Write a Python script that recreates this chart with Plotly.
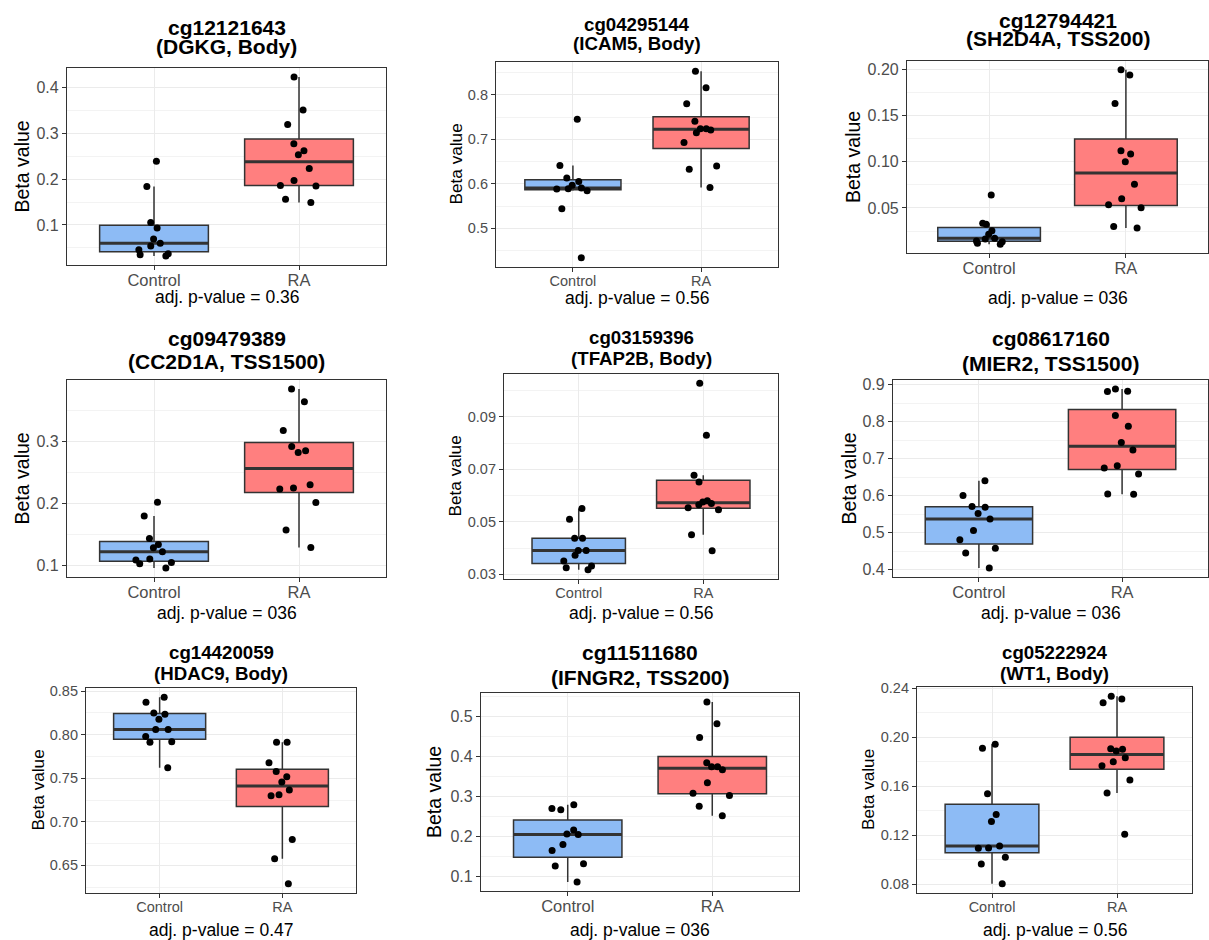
import numpy as np
import plotly.graph_objects as go

W, H = 1209, 940
FONT = "Liberation Sans, Arial, Helvetica, sans-serif"

groups = ["Control", "RA"]
group_colors = ["#8DBBF5", "#FF7F7F"]

probe_ids = ["cg12121643", "cg04295144", "cg12794421",
             "cg09479389", "cg03159396", "cg08617160",
             "cg14420059", "cg11511680", "cg05222924"]
probe_genes = ["(DGKG, Body)", "(ICAM5, Body)", "(SH2D4A, TSS200)",
               "(CC2D1A, TSS1500)", "(TFAP2B, Body)", "(MIER2, TSS1500)",
               "(HDAC9, Body)", "(IFNGR2, TSS200)", "(WT1, Body)"]
pvalue_texts = ["adj. p-value = 0.36", "adj. p-value = 0.56", "adj. p-value = 036",
                "adj. p-value = 036", "adj. p-value = 0.56", "adj. p-value = 036",
                "adj. p-value = 0.47", "adj. p-value = 036", "adj. p-value = 0.56"]

# Beta values
ctrl_cg12121643 = [0.239, 0.184, 0.105, 0.093, 0.069, 0.060, 0.054, 0.046, 0.037, 0.035, 0.032]
ra_cg12121643 = [0.423, 0.351, 0.319, 0.277, 0.262, 0.253, 0.223, 0.197, 0.186, 0.185, 0.156, 0.149]

ctrl_cg04295144 = [0.745, 0.641, 0.613, 0.605, 0.597, 0.5905, 0.589, 0.5885, 0.5845, 0.544, 0.434]
ra_cg04295144 = [0.853, 0.816, 0.780, 0.741, 0.724, 0.724, 0.721, 0.715, 0.693, 0.640, 0.633, 0.592]

ctrl_cg12794421 = [0.0641, 0.0334, 0.0324, 0.0254, 0.0215, 0.0172, 0.0165, 0.0143, 0.0135, 0.0118, 0.0107]
ra_cg12794421 = [0.1996, 0.194, 0.163, 0.112, 0.1084, 0.100, 0.0756, 0.060, 0.0536, 0.0503, 0.030, 0.0283]

ctrl_cg09479389 = [0.2017, 0.1797, 0.1433, 0.1336, 0.1283, 0.1219, 0.1102, 0.1086, 0.1048, 0.1027, 0.0958]
ra_cg09479389 = [0.3840, 0.3636, 0.3171, 0.2914, 0.2845, 0.2818, 0.2299, 0.2246, 0.2230, 0.2011, 0.1572, 0.1289]

ctrl_cg03159396 = [0.0551, 0.0510, 0.0438, 0.0438, 0.0391, 0.0391, 0.0373, 0.0351, 0.0332, 0.0325, 0.0318]
ra_cg03159396 = [0.1028, 0.0830, 0.0678, 0.0652, 0.0581, 0.0576, 0.0570, 0.0565, 0.0554, 0.0546, 0.0451, 0.0390]

ctrl_cg08617160 = [0.641, 0.601, 0.571, 0.569, 0.552, 0.537, 0.506, 0.481, 0.458, 0.445, 0.4045]
ra_cg08617160 = [0.889, 0.883, 0.882, 0.817, 0.788, 0.744, 0.724, 0.681, 0.675, 0.659, 0.605, 0.604]

ctrl_cg14420059 = [0.8428, 0.837, 0.8249, 0.8233, 0.8176, 0.8058, 0.8058, 0.7978, 0.7917, 0.7913, 0.762]
ra_cg14420059 = [0.7913, 0.7913, 0.7677, 0.7578, 0.7517, 0.7456, 0.7365, 0.7311, 0.730, 0.6797, 0.6576, 0.629]

ctrl_cg11511680 = [0.2792, 0.270, 0.2667, 0.2167, 0.2067, 0.205, 0.180, 0.165, 0.1325, 0.1267, 0.0867]
ra_cg11511680 = [0.5358, 0.4817, 0.4475, 0.3842, 0.3742, 0.3742, 0.3667, 0.3342, 0.3083, 0.3025, 0.2758, 0.2517]

ctrl_cg05222924 = [0.1942, 0.1909, 0.1536, 0.1367, 0.131, 0.1111, 0.1094, 0.1092, 0.1018, 0.0964, 0.0803]
ra_cg05222924 = [0.2332, 0.231, 0.228, 0.1904, 0.1901, 0.1885, 0.183, 0.1798, 0.1765, 0.165, 0.1544, 0.1206]

panel_data = [
    (ctrl_cg12121643, ra_cg12121643), (ctrl_cg04295144, ra_cg04295144), (ctrl_cg12794421, ra_cg12794421),
    (ctrl_cg09479389, ra_cg09479389), (ctrl_cg03159396, ra_cg03159396), (ctrl_cg08617160, ra_cg08617160),
    (ctrl_cg14420059, ra_cg14420059), (ctrl_cg11511680, ra_cg11511680), (ctrl_cg05222924, ra_cg05222924),
]

# y tick settings per panel: (tick0, dtick, format)
y_ticks = [(0, 0.1, ".1f"), (0, 0.1, ".1f"), (0, 0.05, ".2f"),
           (0, 0.1, ".1f"), (0.01, 0.02, ".2f"), (0, 0.1, ".1f"),
           (0, 0.05, ".2f"), (0, 0.1, ".1f"), (0, 0.04, ".2f")]

# layout in pixels: plot area x0, x1, y0, y1 ; title line y's ; y-label x ; x-title y ; font group
panel_layout = [
    dict(box=(67, 386, 68, 265), ty=(27, 46), ylx=21, xty=297, big=True),
    dict(box=(496, 778, 62, 267), ty=(24, 43), ylx=455, xty=298, big=False),
    dict(box=(907, 1208, 61, 253), ty=(20, 38), ylx=853, xty=298, big=True),
    dict(box=(67, 386, 380, 577), ty=(338, 362), ylx=21, xty=613, big=True),
    dict(box=(504, 778, 374, 579), ty=(337, 358), ylx=455, xty=613, big=False),
    dict(box=(893, 1208, 380, 577), ty=(338, 363), ylx=848, xty=613, big=True),
    dict(box=(86, 356, 688, 893), ty=(652, 673), ylx=37, xty=930, big=False),
    dict(box=(481, 799, 693, 891), ty=(652, 677), ylx=434, xty=930, big=True),
    dict(box=(917, 1192, 687, 893), ty=(652, 673), ylx=868, xty=930, big=False),
]

fonts_big = dict(title=21, ylab=19.5, tick=16, cat=16.5, xtitle=17.5)
fonts_small = dict(title=18.7, ylab=17.2, tick=14.5, cat=14.5, xtitle=17.5)


def px_x(p):
    return p / W


def px_y(p):
    return 1 - p / H


def box_stats(v):
    v = np.asarray(v, dtype=float)
    q1, med, q3 = np.percentile(v, [25, 50, 75])
    iqr = q3 - q1
    lf = v[v >= q1 - 1.5 * iqr].min()
    uf = v[v <= q3 + 1.5 * iqr].max()
    return q1, med, q3, lf, uf


fig = go.Figure()
layout = dict(
    width=W, height=H, autosize=False,
    margin=dict(l=0, r=0, t=0, b=0, pad=0, autoexpand=False),
    paper_bgcolor="white", plot_bgcolor="white",
    showlegend=False, boxmode="overlay",
    font=dict(family=FONT),
)
annotations = []

for i, (pdata, pl) in enumerate(zip(panel_data, panel_layout)):
    suffix = "" if i == 0 else str(i + 1)
    xa, ya = "x" + suffix, "y" + suffix
    fs = fonts_big if pl["big"] else fonts_small
    x0, x1, y0, y1 = pl["box"]

    allv = np.concatenate([np.asarray(pdata[0]), np.asarray(pdata[1])])
    vmin, vmax = allv.min(), allv.max()
    pad = 0.05 * (vmax - vmin)
    tick0, dtick, fmt = y_ticks[i]

    for gi, (gname, vals) in enumerate(zip(groups, pdata)):
        pos = gi + 1
        q1, med, q3, lf, uf = box_stats(vals)
        # box with whiskers (ggplot-style stats)
        fig.add_trace(go.Box(
            x=[pos], q1=[q1], median=[med], q3=[q3], lowerfence=[lf], upperfence=[uf],
            width=0.75, whiskerwidth=0, fillcolor=group_colors[gi],
            line=dict(color="#333333", width=1.5), boxpoints=False,
            xaxis=xa, yaxis=ya, hoverinfo="skip", showlegend=False,
        ))
        # thicker median line
        fig.add_trace(go.Box(
            x=[pos], q1=[med], median=[med], q3=[med], lowerfence=[med], upperfence=[med],
            width=0.75, whiskerwidth=0, fillcolor="rgba(0,0,0,0)",
            line=dict(color="#333333", width=3), boxpoints=False,
            xaxis=xa, yaxis=ya, hoverinfo="skip", showlegend=False,
        ))
        # jittered points
        fig.add_trace(go.Box(
            x=[pos] * len(vals), y=vals, width=0.75, whiskerwidth=0,
            boxpoints="all", jitter=0.42, pointpos=0,
            fillcolor="rgba(0,0,0,0)", line=dict(color="rgba(0,0,0,0)", width=0),
            marker=dict(color="black", size=7),
            xaxis=xa, yaxis=ya, hoverinfo="y", showlegend=False,
        ))

    layout["xaxis" + suffix] = dict(
        domain=[px_x(x0), px_x(x1)], anchor=ya, automargin=False,
        range=[0.4, 2.6], tickmode="array", tickvals=[1, 2], ticktext=groups,
        showgrid=True, gridcolor="#EBEBEB", gridwidth=1.2, zeroline=False,
        showline=True, mirror=True, linecolor="#333333", linewidth=1.2,
        ticks="outside", ticklen=4, tickcolor="#333333", tickwidth=1,
        ticklabelstandoff=-4,
        tickfont=dict(size=fs["cat"], color="#4D4D4D", family=FONT),
    )
    layout["yaxis" + suffix] = dict(
        domain=[px_y(y1), px_y(y0)], anchor=xa, automargin=False,
        range=[vmin - pad, vmax + pad],
        tick0=tick0, dtick=dtick, tickformat=fmt,
        showgrid=True, gridcolor="#EBEBEB", gridwidth=1.2, zeroline=False,
        minor=dict(dtick=dtick / 2, tick0=tick0, showgrid=True, gridcolor="#F3F3F3", gridwidth=0.8, ticks=""),
        showline=True, mirror=True, linecolor="#333333", linewidth=1.2,
        ticks="outside", ticklen=4, tickcolor="#333333", tickwidth=1,
        tickfont=dict(size=fs["tick"], color="#4D4D4D", family=FONT),
    )

    cx = (x0 + x1) / 2
    cy = (y0 + y1) / 2
    annotations.append(dict(text="<b>" + probe_ids[i] + "</b>", x=px_x(cx), y=px_y(pl["ty"][0]),
                            xref="paper", yref="paper", showarrow=False, xanchor="center", yanchor="middle",
                            font=dict(size=fs["title"], color="black", family=FONT)))
    annotations.append(dict(text="<b>" + probe_genes[i] + "</b>", x=px_x(cx), y=px_y(pl["ty"][1]),
                            xref="paper", yref="paper", showarrow=False, xanchor="center", yanchor="middle",
                            font=dict(size=fs["title"], color="black", family=FONT)))
    annotations.append(dict(text="Beta value", x=px_x(pl["ylx"]), y=px_y(cy), textangle=-90,
                            xref="paper", yref="paper", showarrow=False, xanchor="center", yanchor="middle",
                            font=dict(size=fs["ylab"], color="black", family=FONT)))
    annotations.append(dict(text=pvalue_texts[i], x=px_x(cx), y=px_y(pl["xty"]),
                            xref="paper", yref="paper", showarrow=False, xanchor="center", yanchor="middle",
                            font=dict(size=fs["xtitle"], color="black", family=FONT)))

layout["annotations"] = annotations
fig.update_layout(**layout)

pin_script = (
    "document.documentElement.style.margin='0';"
    "document.body.style.margin='0';document.body.style.padding='0';"
    "var gd=document.getElementById('{plot_id}');"
    "gd.style.position='absolute';gd.style.left='0px';gd.style.top='0px';"
)
fig.write_html("out.html", post_script=pin_script, config={"displayModeBar": False})
